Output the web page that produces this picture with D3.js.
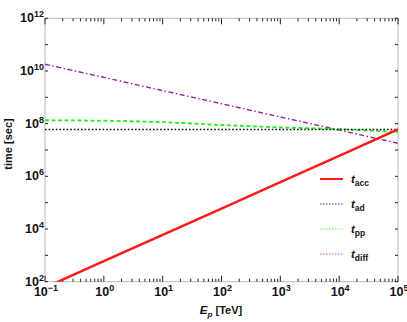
<!DOCTYPE html>
<html><head><meta charset="utf-8">
<script src="https://cdn.jsdelivr.net/npm/d3@7"></script>
<style>body{margin:0;background:#fff}text{font-family:"Liberation Sans",Arial,sans-serif}</style>
</head><body><svg id="c" width="407" height="322"></svg>
<script>
// Data
const energies = [0.1, 1, 10, 100, 1000, 10000, 100000];      // TeV
const tAcc  = [6e1, 6e2, 6e3, 6e4, 6e5, 6e6, 6e7];             // sec
const tAd   = [6e7, 6e7, 6e7, 6e7, 6e7, 6e7, 6e7];
const tPp   = [1.35e8, 1.3e8, 1.15e8, 8.9e7, 7.2e7, 6.2e7, 4.8e7];
const tDiff = [1.8e10, 5.7e9, 1.8e9, 5.7e8, 1.8e8, 5.7e7, 1.8e7];
const xTickExp = [-1, 0, 1, 2, 3, 4, 5];
const yTickExp = [2, 4, 6, 8, 10, 12];
const legendNames = [["t","acc"],["t","ad"],["t","pp"],["t","diff"]];

const svg = d3.select("#c");
const L = 45, R = 398, T = 18.3, B = 281.7;
const x = d3.scaleLog().domain([0.1, 1e5]).range([L, R]);
const y = d3.scaleLog().domain([1e2, 1e12]).range([B, T]);

// frame
svg.append("rect").attr("x", L).attr("y", T).attr("width", R - L).attr("height", B - T)
  .attr("fill", "none").attr("stroke", "#bbb").attr("stroke-width", 1);

// x ticks (bottom and top, inward)
const xMinor = [];
for (let e = -1; e < 5; e++) for (let k = 2; k <= 9; k++) xMinor.push(k * Math.pow(10, e));
const xMajor = xTickExp.map(e => Math.pow(10, e));
const tk = svg.append("g").attr("stroke", "#222").attr("stroke-width", 1);
xMinor.forEach(v => {
  tk.append("line").attr("x1", x(v)).attr("x2", x(v)).attr("y1", B).attr("y2", B - 3);
  tk.append("line").attr("x1", x(v)).attr("x2", x(v)).attr("y1", T).attr("y2", T + 3);
});
xMajor.forEach(v => {
  tk.append("line").attr("x1", x(v)).attr("x2", x(v)).attr("y1", B).attr("y2", B - 6);
  tk.append("line").attr("x1", x(v)).attr("x2", x(v)).attr("y1", T).attr("y2", T + 6);
});
// y ticks each decade (left and right, inward)
for (let e = 2; e <= 12; e++) {
  const v = Math.pow(10, e);
  tk.append("line").attr("y1", y(v)).attr("y2", y(v)).attr("x1", L).attr("x2", L + 3);
  tk.append("line").attr("y1", y(v)).attr("y2", y(v)).attr("x1", R).attr("x2", R - 3);
}

// tick labels
function powLabel(g, px, py, exp, anchor) {
  const t = g.append("text").attr("x", px).attr("y", py).attr("text-anchor", anchor)
    .attr("font-size", 12.5).attr("font-weight", "bold").attr("fill", "#111");
  t.append("tspan").text("10");
  t.append("tspan").attr("dy", -5).attr("font-size", 9).text(String(exp).replace("-", "\u2212"));
}
xTickExp.forEach(e => powLabel(svg, x(Math.pow(10, e)) + 1, 296, e, "middle"));
yTickExp.forEach(e => powLabel(svg, 44, y(Math.pow(10, e)) + 4, e, "end"));

// axis titles
svg.append("text").attr("transform", `translate(12,144) rotate(-90)`)
  .attr("text-anchor", "middle").attr("font-size", 11).attr("font-weight", "bold").attr("fill", "#111")
  .text("time [sec]");
const xl = svg.append("text").attr("x", 221).attr("y", 314).attr("text-anchor", "middle")
  .attr("font-size", 11).attr("font-weight", "bold").attr("fill", "#111");
xl.append("tspan").attr("font-style", "italic").attr("font-size", 11.5).text("E");
xl.append("tspan").attr("font-style", "italic").attr("font-size", 8).attr("dy", 3).text("p");
xl.append("tspan").attr("dy", -3).text(" [TeV]");

// lines
const styles = [
  {data: tAcc, color: "#ff1a1a", width: 2.5, dash: null},
  {data: tAd, color: "#111", width: 1.6, dash: "1.6,2"},
  {data: tPp, color: "#22ee22", width: 1.8, dash: "4,2.5"},
  {data: tDiff, color: "#992299", width: 1.4, dash: "5,2.5,1.5,2.5"}
];
svg.append("clipPath").attr("id", "clip").append("rect")
  .attr("x", L).attr("y", T).attr("width", R - L).attr("height", B - T);
const line = d3.line().x(d => x(d[0])).y(d => y(d[1]));
const plot = svg.append("g").attr("clip-path", "url(#clip)");
styles.slice().reverse().forEach(s => {
  plot.append("path").attr("d", line(energies.map((e, i) => [e, s.data[i]])))
    .attr("fill", "none").attr("stroke", s.color).attr("stroke-width", s.width)
    .attr("stroke-dasharray", s.dash);
});

// legend
const legY = [179, 204, 229, 254];
styles.forEach((s, i) => {
  svg.append("line").attr("x1", 320).attr("x2", 343).attr("y1", legY[i]).attr("y2", legY[i])
    .attr("stroke", s.color).attr("stroke-width", i === 0 ? 2 : 1)
    .attr("stroke-dasharray", i === 0 ? null : "1.5,1.5").attr("opacity", i === 0 ? 1 : 0.8);
  const t = svg.append("text").attr("x", 351).attr("y", legY[i] + 4).attr("font-size", 11.5)
    .attr("font-weight", "bold").attr("fill", "#111");
  t.append("tspan").attr("font-style", "italic").text(legendNames[i][0]);
  t.append("tspan").attr("dy", 3).attr("font-size", 8.5).text(legendNames[i][1]);
});
</script></body></html>
